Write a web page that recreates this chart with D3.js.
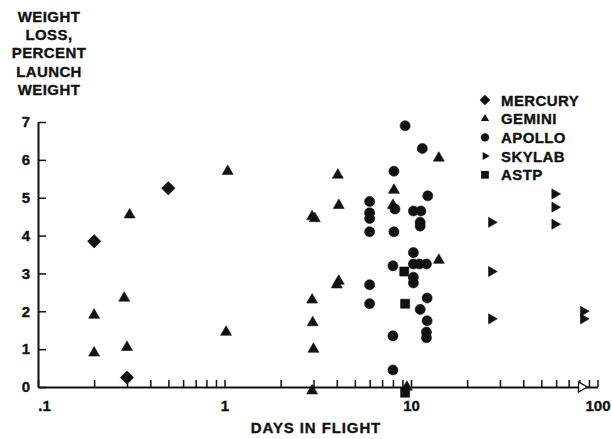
<!DOCTYPE html>
<html>
<head>
<meta charset="utf-8">
<script src="https://cdn.jsdelivr.net/npm/d3@7"></script>
<style>
  body { margin: 0; background: #fff; }
  svg { font-family: "Liberation Sans", Arial, sans-serif; font-weight: bold; }
  svg text { stroke: #111; stroke-width: 0.35px; }
</style>
</head>
<body>
<div class="canvas"></div>
<script>
// data (days in flight, weight loss %)
const mercuryDays = [0.2, 0.3, 0.5]
const mercuryLoss = [3.85, 0.25, 5.25]

const geminiDays = [0.2, 0.2, 0.31, 0.29, 0.3, 1.04, 1.02, 2.95, 3.05, 2.95, 2.97, 3.0, 2.95,
    4.05, 4.1, 4.1, 4.0, 8.1, 8.0, 14.1, 14.1, 9.5]
const geminiLoss = [1.9, 0.9, 4.55, 2.35, 1.05, 5.7, 1.45, 4.5, 4.45, 2.3, 1.7, 1.0, -0.1,
    5.6, 4.8, 2.8, 2.7, 5.2, 4.8, 6.05, 3.35, 0.0]

const apolloDays = [6.0, 6.0, 6.0, 6.0, 6.0, 6.0, 8.1, 8.2, 8.1, 8.0, 8.0, 8.0, 9.3,
    10.3, 11.3, 11.2, 11.2, 11.5, 12.3, 10.3, 10.3, 11.1, 12.1, 10.3, 10.3,
    12.2, 11.2, 12.2, 12.1, 12.1]
const apolloLoss = [4.9, 4.6, 4.45, 4.1, 2.7, 2.2, 5.7, 4.7, 4.1, 3.2, 1.35, 0.45, 6.9,
    4.65, 4.65, 4.35, 4.25, 6.3, 5.05, 3.55, 3.25, 3.25, 3.25, 2.9, 2.75,
    2.35, 2.05, 1.75, 1.45, 1.3]

const skylabDays = [27, 27, 27, 59, 59, 59, 84, 84]
const skylabLoss = [4.35, 3.05, 1.8, 5.1, 4.75, 4.3, 2.0, 1.8]
const skylabOpenDays = [82]
const skylabOpenLoss = [0.0]

const astpDays = [9.2, 9.3, 9.3]
const astpLoss = [3.05, 2.2, -0.15]

const programs = ["MERCURY", "GEMINI", "APOLLO", "SKYLAB", "ASTP"]
const yTicks = [0, 1, 2, 3, 4, 5, 6, 7]
const titleLines = ["WEIGHT", "LOSS,", "PERCENT", "LAUNCH", "WEIGHT"]

const svg = d3.select(".canvas").append("svg")
    .attr("width", 612)
    .attr("height", 439)

const x = d3.scaleLog()
    .domain([0.1, 100])
    .range([38, 597.5])
const y = d3.scaleLinear()
    .domain([0, 7])
    .range([387, 122])

// minor + major tick values for every decade
const xTicks = []
for (let p = -1; p < 2; p++) {
    for (let m = 1; m < 10; m++) xTicks.push(+(m * Math.pow(10, p)).toPrecision(2))
}
xTicks.push(100)

const xAxis = d3.axisBottom(x)
    .tickValues(xTicks)
    .tickSizeInner(-7)
    .tickSizeOuter(0)
    .tickPadding(13)
    .tickFormat(d => d === 0.1 ? ".1" : ([1, 10, 100].includes(d) ? d : ""))
const yAxis = d3.axisLeft(y)
    .tickValues(yTicks)
    .tickSizeInner(-8)
    .tickSizeOuter(0)
    .tickPadding(8)
    .tickFormat(d3.format("d"))

const xAxisGroup = svg.append("g")
    .attr("transform", `translate(0, ${y(0)})`)
    .call(xAxis)
const yAxisGroup = svg.append("g")
    .attr("transform", `translate(${x(0.1)}, 0)`)
    .call(yAxis)

;[xAxisGroup, yAxisGroup].forEach(g => {
    g.select(".domain").attr("stroke", "#111").attr("stroke-width", 2)
    g.selectAll(".tick line").attr("stroke", "#111").attr("stroke-width", 1.5)
    g.selectAll("text")
        .attr("fill", "#111")
        .style("font-size", "15px")
        .style("font-weight", "bold")
        .style("font-family", "'Liberation Sans', Arial, sans-serif")
})
xAxisGroup.selectAll(".tick text").filter(d => d === 0.1).attr("dx", 6)

// symbols
const sym = {
    diamond: s => d3.symbol(d3.symbolSquare, s)(),
    tri: s => d3.symbol(d3.symbolTriangle, s)(),
    circle: s => d3.symbol(d3.symbolCircle, s)(),
    square: s => d3.symbol(d3.symbolSquare, s)()
}
const styles = {
    MERCURY: { path: sym.diamond(88), rot: 45, lpath: sym.diamond(55) },
    GEMINI: { path: sym.tri(52), rot: 0, lpath: sym.tri(30) },
    APOLLO: { path: sym.circle(80), rot: 0, lpath: sym.circle(55) },
    SKYLAB: { path: sym.tri(44), rot: 90, lpath: sym.tri(28) },
    ASTP: { path: sym.square(82), rot: 0, lpath: sym.square(60) }
}

function plot(name, days, loss, open) {
    const pts = days.map((d, i) => ({ d: d, v: loss[i] }))
    const st = styles[name]
    svg.append("g").selectAll("path")
        .data(pts)
        .enter()
        .append("path")
        .attr("d", st.path)
        .attr("transform", p => `translate(${x(p.d)}, ${y(p.v)}) rotate(${st.rot})`)
        .attr("fill", open ? "#fff" : "#111")
        .attr("stroke", "#111")
        .attr("stroke-width", open ? 1.3 : 0.6)
}

plot("MERCURY", mercuryDays, mercuryLoss)
plot("GEMINI", geminiDays, geminiLoss)
plot("APOLLO", apolloDays, apolloLoss)
plot("SKYLAB", skylabDays, skylabLoss)
plot("SKYLAB", skylabOpenDays, skylabOpenLoss, true)
plot("ASTP", astpDays, astpLoss)

// legend
const legend = svg.append("g")
    .attr("transform", "translate(485, 100)")
const items = legend.selectAll("g")
    .data(programs)
    .enter()
    .append("g")
    .attr("transform", (d, i) => `translate(0, ${i * 18.7})`)
items.append("path")
    .attr("d", d => styles[d].lpath)
    .attr("transform", d => `rotate(${styles[d].rot})`)
    .attr("fill", "#111")
items.append("text")
    .attr("x", 16)
    .attr("y", 5.5)
    .attr("fill", "#111")
    .style("font-size", "15px")
    .style("letter-spacing", "0.4px")
    .text(d => d)

// y title
svg.append("g").selectAll("text")
    .data(titleLines)
    .enter()
    .append("text")
    .attr("x", 49)
    .attr("y", (d, i) => 22 + i * 18.2)
    .attr("text-anchor", "middle")
    .attr("fill", "#111")
    .style("font-size", "15px")
    .style("letter-spacing", "0.4px")
    .text(d => d)

// x title
svg.append("text")
    .attr("x", 316)
    .attr("y", 433)
    .attr("text-anchor", "middle")
    .attr("fill", "#111")
    .style("font-size", "15px")
    .style("letter-spacing", "0.9px")
    .text("DAYS IN FLIGHT")
</script>
</body>
</html>
